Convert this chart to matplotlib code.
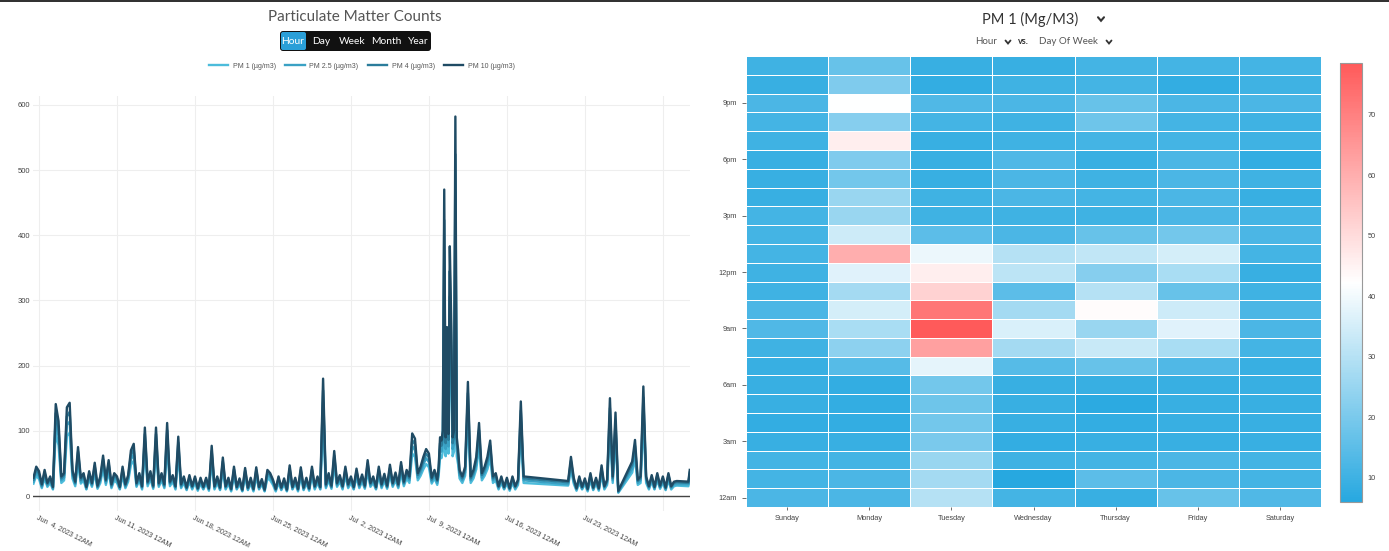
import numpy as np
import pandas as pd
import matplotlib
matplotlib.use("Agg")
import matplotlib.pyplot as plt
from matplotlib.colors import LinearSegmentedColormap
from matplotlib.patches import FancyBboxPatch, Rectangle
from matplotlib.lines import Line2D
from matplotlib.transforms import IdentityTransform

W, H = 1389, 551

# ---------------- line chart data ----------------
segment_starts = ["2023-06-03 12:00", "2023-07-09 21:00", "2023-07-11 18:00",
                  "2023-07-21 12:00", "2023-07-27 06:00", "2023-08-01 07:00"]
segment_ends = ["2023-07-09 18:00", "2023-07-11 15:00", "2023-07-17 12:00",
                "2023-07-26 00:00", "2023-07-31 06:00", "2023-08-01 10:00"]
segment_freqs = ["6h", "3h", "6h", "6h", "6h", "3h"]

pm10 = [28, 45,
        38, 18, 40, 20, 30, 14, 141, 115, 30, 35, 136, 143, 40, 22, 75, 28,
        35, 14, 38, 20, 51, 16, 30, 62, 25, 55, 18, 35, 30, 14, 45, 18,
        32, 70, 80, 20, 35, 15, 105, 22, 38, 16, 105, 20, 35, 18, 112, 22,
        32, 15, 91, 18, 30, 13, 32, 15, 30, 12, 28, 14, 28, 12, 77, 15,
        30, 13, 59, 15, 28, 11, 45, 14, 27, 10, 43, 13, 28, 11, 44, 14,
        26, 10, 40, 35, 25, 11, 30, 13, 27, 10, 47, 14, 28, 11, 44, 13,
        28, 12, 45, 15, 30, 14, 180, 18, 35, 16, 69, 20, 32, 15, 45, 18,
        30, 14, 42, 18, 33, 16, 55, 20, 30, 14, 45, 18, 34, 16, 48, 20,
        36, 18, 52, 22, 40, 30, 96, 88, 35, 45, 60, 72, 65, 28, 40, 25,
        45, 90, 85, 100, 470, 90, 259, 95, 383, 270, 90, 100, 582, 90, 70,
        40, 30, 45, 175, 30, 40, 60, 112, 35, 45, 60, 85, 30, 35, 15, 30, 14,
        28, 12, 30, 15, 25, 145, 30,
        23, 60, 28, 12, 30, 14, 27, 11, 35, 13, 28, 12, 47, 15, 25, 150, 30, 128, 8,
        53, 86, 25, 30, 168, 30, 15, 32, 14, 35, 16, 30, 13, 35, 15, 22, 23,
        22, 40]

pm4 = [25, 41,
       34, 16, 36, 18, 27, 13, 127, 104, 27, 32, 122, 129, 36, 20, 68, 25,
       32, 13, 34, 18, 46, 14, 27, 56, 23, 50, 16, 32, 27, 13, 41, 16,
       29, 63, 72, 18, 32, 14, 95, 20, 34, 14, 95, 18, 32, 16, 101, 20,
       29, 14, 82, 16, 27, 12, 29, 14, 27, 11, 25, 13, 25, 11, 69, 14,
       27, 12, 53, 14, 25, 10, 41, 13, 24, 9, 39, 12, 25, 10, 40, 13,
       23, 9, 36, 32, 23, 10, 27, 12, 24, 9, 42, 13, 25, 10, 40, 12,
       25, 11, 41, 14, 27, 13, 162, 16, 32, 14, 62, 18, 29, 14, 41, 16,
       27, 13, 38, 16, 30, 14, 50, 18, 27, 13, 41, 16, 31, 14, 43, 18,
       32, 16, 47, 20, 36, 27, 86, 79, 32, 41, 54, 65, 59, 25, 36, 23,
       41, 81, 77, 90, 423, 81, 233, 86, 345, 243, 81, 90, 524, 81, 63,
       36, 27, 41, 158, 27, 36, 54, 101, 32, 41, 54, 77, 27, 32, 14, 27, 13,
       25, 11, 27, 14, 23, 131, 27,
       21, 54, 25, 11, 27, 13, 24, 10, 32, 12, 25, 11, 42, 14, 23, 135, 27, 115, 7,
       48, 77, 23, 27, 151, 27, 14, 29, 13, 32, 14, 27, 12, 32, 14, 20, 21,
       20, 36]

pm25 = [22, 36,
        30, 14, 32, 16, 24, 11, 113, 92, 24, 28, 109, 114, 32, 18, 60, 22,
        28, 11, 30, 16, 41, 13, 24, 50, 20, 44, 14, 28, 24, 11, 36, 14,
        26, 56, 64, 16, 28, 12, 84, 18, 30, 13, 84, 16, 28, 14, 90, 18,
        26, 12, 73, 14, 24, 10, 26, 12, 24, 10, 22, 11, 22, 10, 62, 12,
        24, 10, 47, 12, 22, 9, 36, 11, 22, 8, 34, 10, 22, 9, 35, 11,
        21, 8, 32, 28, 20, 9, 24, 10, 22, 8, 38, 11, 22, 9, 35, 10,
        22, 10, 36, 12, 24, 11, 144, 14, 28, 13, 55, 16, 26, 12, 36, 14,
        24, 11, 34, 14, 26, 13, 44, 16, 24, 11, 36, 14, 27, 13, 38, 16,
        29, 14, 42, 18, 32, 24, 77, 70, 28, 36, 48, 58, 52, 22, 32, 20,
        36, 72, 68, 80, 376, 72, 207, 76, 306, 216, 72, 80, 466, 72, 56,
        32, 24, 36, 140, 24, 32, 48, 90, 28, 36, 48, 68, 24, 28, 12, 24, 11,
        22, 10, 24, 12, 20, 116, 24,
        18, 48, 22, 10, 24, 11, 22, 9, 28, 10, 22, 10, 38, 12, 20, 120, 24, 102, 6,
        42, 69, 20, 24, 134, 24, 12, 26, 11, 28, 13, 24, 10, 28, 12, 18, 18,
        18, 32]

pm1 = [19, 31,
       26, 12, 27, 14, 20, 10, 96, 78, 20, 24, 92, 97, 27, 15, 51, 19,
       24, 10, 26, 14, 35, 11, 20, 42, 17, 37, 12, 24, 20, 10, 31, 12,
       22, 48, 54, 14, 24, 10, 71, 15, 26, 11, 71, 14, 24, 12, 76, 15,
       22, 10, 62, 12, 20, 9, 22, 10, 20, 8, 19, 10, 19, 8, 52, 10,
       20, 9, 40, 10, 19, 7, 31, 10, 18, 7, 29, 9, 19, 7, 30, 10,
       18, 7, 27, 24, 17, 7, 20, 9, 18, 7, 32, 10, 19, 7, 30, 9,
       19, 8, 31, 10, 20, 10, 122, 12, 24, 11, 47, 14, 22, 10, 31, 12,
       20, 10, 29, 12, 22, 11, 37, 14, 20, 10, 31, 12, 23, 11, 33, 14,
       24, 12, 35, 15, 27, 20, 65, 60, 24, 31, 41, 49, 44, 19, 27, 17,
       31, 61, 58, 68, 320, 61, 176, 65, 260, 184, 61, 68, 396, 61, 48,
       27, 20, 31, 119, 20, 27, 41, 76, 24, 31, 41, 58, 20, 24, 10, 20, 10,
       19, 8, 20, 10, 17, 99, 20,
       16, 41, 19, 8, 20, 10, 18, 7, 24, 9, 19, 8, 32, 10, 17, 102, 20, 87, 5,
       36, 58, 17, 20, 114, 20, 10, 22, 10, 24, 11, 20, 9, 24, 10, 15, 16,
       15, 27]

series_names = ["PM 1 (µg/m3)", "PM 2.5 (µg/m3)", "PM 4 (µg/m3)", "PM 10 (µg/m3)"]
series_colors = ["#4cbcdb", "#3aa1c4", "#2b7c9b", "#1f4b64"]

date_ticks = ["2023-06-04", "2023-06-11", "2023-06-18", "2023-06-25", "2023-07-02",
              "2023-07-09", "2023-07-16", "2023-07-23", "2023-07-30"]
date_tick_labels = ["Jun  4, 2023 12AM", "Jun 11, 2023 12AM", "Jun 18, 2023 12AM",
                    "Jun 25, 2023 12AM", "Jul  2, 2023 12AM", "Jul  9, 2023 12AM",
                    "Jul 16, 2023 12AM", "Jul 23, 2023 12AM", ""]
y_ticks = [0, 100, 200, 300, 400, 500, 600]

# ---------------- heatmap data (rows: hour 0..23, cols: Sunday..Saturday) ----------------
days = ["Sunday", "Monday", "Tuesday", "Wednesday", "Thursday", "Friday", "Saturday"]
hour_labels = ["12am", "3am", "6am", "9am", "12pm", "3pm", "6pm", "9pm"]
hour_label_rows = [0, 3, 6, 9, 12, 15, 18, 21]
pm1_hour_day = [
    [12, 12, 30, 11, 9, 17, 13],
    [11, 12, 27, 6, 15, 12, 11],
    [11, 11, 25, 10, 11, 12, 11],
    [9, 9, 20, 8, 9, 9, 9],
    [8, 8, 19, 9, 8, 9, 9],
    [9, 8, 18, 9, 7, 9, 9],
    [9, 8, 19, 9, 9, 9, 9],
    [9, 14, 38, 14, 17, 13, 9],
    [10, 23, 63, 27, 33, 28, 11],
    [13, 28, 78.5, 36, 25, 37, 12],
    [12, 35, 72, 27, 43, 34, 12],
    [10, 27, 52, 15, 30, 17, 10],
    [10, 37, 46, 31, 22, 28, 9],
    [11, 60, 39, 30, 32, 35, 11],
    [11, 34, 15, 12, 17, 19, 12],
    [11, 25, 10, 10, 10, 12, 11],
    [9, 25, 10, 12, 11, 12, 9],
    [9, 19, 9, 12, 10, 12, 10],
    [9, 21, 9, 13, 9, 12, 8],
    [10, 46, 9, 10, 11, 11, 10],
    [11, 22, 11, 10, 18, 11, 10],
    [12, 42, 13, 12, 17, 12, 12],
    [9, 21, 8, 10, 11, 8, 10],
    [10, 17, 9, 9, 11, 11, 11],
]
cbar_ticks = [10, 20, 30, 40, 50, 60, 70]

# ---------------- figure ----------------
fig = plt.figure(figsize=(W / 100, H / 100), dpi=100)
fig.patch.set_facecolor("white")

def px_text(x, y, s, **kw):
    fig.text(x / W, 1 - y / H, s, **kw)

def chevron(cx, cy, w, h, lw=1.4, color="#333333"):
    fig.add_artist(Line2D([cx - w / 2, cx, cx + w / 2],
                          [H - cy + h / 2, H - cy - h / 2, H - cy + h / 2],
                          transform=IdentityTransform(), color=color, lw=lw,
                          solid_capstyle="round", solid_joinstyle="miter"))

# top dark bar
fig.add_artist(Rectangle((0, H - 2), W, 2, transform=IdentityTransform(),
                         fc="#333333", ec="none"))

# ---- line chart ----
times = pd.DatetimeIndex(np.concatenate([
    pd.date_range(s, e, freq=f).values
    for s, e, f in zip(segment_starts, segment_ends, segment_freqs)]))

ax = fig.add_axes([33 / W, 1 - 511 / H, 657 / W, (511 - 96) / H])
handles = []
for vals, name, col in zip([pm1, pm25, pm4, pm10], series_names, series_colors):
    h, = ax.plot(times, vals, color=col, lw=1.7, label=name, solid_joinstyle="round")
    handles.append(h)
ax.set_xlim(pd.Timestamp("2023-06-03 11:00"), pd.Timestamp("2023-08-01 10:30"))
ax.set_ylim(-23, 613.5)
ax.set_yticks(y_ticks)
ax.set_xticks(pd.to_datetime(date_ticks))
ax.set_xticklabels(date_tick_labels)
ax.grid(True, color="#eeeeee", lw=0.8)
ax.set_axisbelow(True)
ax.axhline(0, color="#444444", lw=1.0, zorder=1.5)
for s in ax.spines.values():
    s.set_visible(False)
ax.tick_params(length=0, labelsize=5.5, labelcolor="#444444")
ax.tick_params(axis="y", pad=2)
ax.tick_params(axis="x", pad=2, labelsize=5.2)
plt.setp(ax.get_xticklabels(), rotation=-27, ha="left", va="top",
         rotation_mode="anchor", family="Liberation Sans")
plt.setp(ax.get_yticklabels(), family="Liberation Sans")

px_text(355, 17, "Particulate Matter Counts", ha="center", va="center",
        fontsize=11, color="#555555", family="Lato")

# button group
fig.add_artist(FancyBboxPatch((280, H - 51), 151, 20, transform=IdentityTransform(),
                              boxstyle="round,pad=0,rounding_size=3",
                              fc="#111111", ec="none"))
fig.add_artist(FancyBboxPatch((281, H - 50), 25, 18, transform=IdentityTransform(),
                              boxstyle="round,pad=0,rounding_size=2",
                              fc="#2a9fd8", ec="none"))
for label, cx in zip(["Hour", "Day", "Week", "Month", "Year"], [293, 321, 352, 386, 418]):
    px_text(cx, 41.5, label, ha="center", va="center", fontsize=7.4, color="white",
            family="Lato")

fig.legend(handles, series_names, loc="center", bbox_to_anchor=(362 / W, 1 - 66 / H),
           ncol=4, frameon=False, prop={"family": "Liberation Sans", "size": 5},
           labelcolor="#555555", handlelength=2.8, handletextpad=0.7,
           columnspacing=1.3)

# ---- heatmap ----
Z = np.array(pm1_hour_day, dtype=float)
cmap = LinearSegmentedColormap.from_list("blue_white_red", ["#27a8e0", "#ffffff", "#ff5a5a"])
hax = fig.add_axes([746 / W, 1 - 507 / H, 575 / W, 451 / H])
mesh = hax.pcolormesh(np.arange(len(days) + 1), np.arange(Z.shape[0] + 1), Z,
                      cmap=cmap, vmin=6, vmax=Z.max(), edgecolors="white", linewidth=0.5)
hax.set_xlim(0, len(days))
hax.set_ylim(0, Z.shape[0])
hax.set_xticks(np.arange(len(days)) + 0.5)
hax.set_xticklabels(days)
hax.set_yticks(np.array(hour_label_rows) + 0.5)
hax.set_yticklabels(hour_labels)
for s in hax.spines.values():
    s.set_visible(False)
hax.tick_params(axis="both", length=3, width=0.6, color="#555555",
                labelsize=5.3, labelcolor="#444444")
hax.tick_params(axis="x", length=2.5, pad=3)
plt.setp(hax.get_xticklabels() + hax.get_yticklabels(), family="Liberation Sans")

cax = fig.add_axes([1340 / W, 1 - 502 / H, 22 / W, 439 / H])
cb = fig.colorbar(mesh, cax=cax)
cb.set_ticks(cbar_ticks)
cb.outline.set_edgecolor("#999999")
cb.outline.set_linewidth(0.8)
cax.tick_params(length=0, labelsize=5.3, labelcolor="#444444", pad=4)
plt.setp(cax.get_yticklabels(), family="Liberation Sans")

px_text(1030, 19, "PM 1 (Mg/M3)", ha="center", va="center", fontsize=10.5,
        color="#333333", family="Lato")
chevron(1101, 19, 6, 3.5, lw=1.5)
px_text(986, 42, "Hour", ha="center", va="center", fontsize=7, color="#555555", family="Lato")
chevron(1008, 42, 5, 3, lw=1.3)
px_text(1023, 42, "vs.", ha="center", va="center", fontsize=6.5, color="#333333",
        family="Lato", fontweight="bold")
px_text(1068, 42, "Day Of Week", ha="center", va="center", fontsize=7, color="#555555",
        family="Lato")
chevron(1109, 42, 5, 3, lw=1.3)

fig.savefig("out.png", dpi=100, facecolor="white")
